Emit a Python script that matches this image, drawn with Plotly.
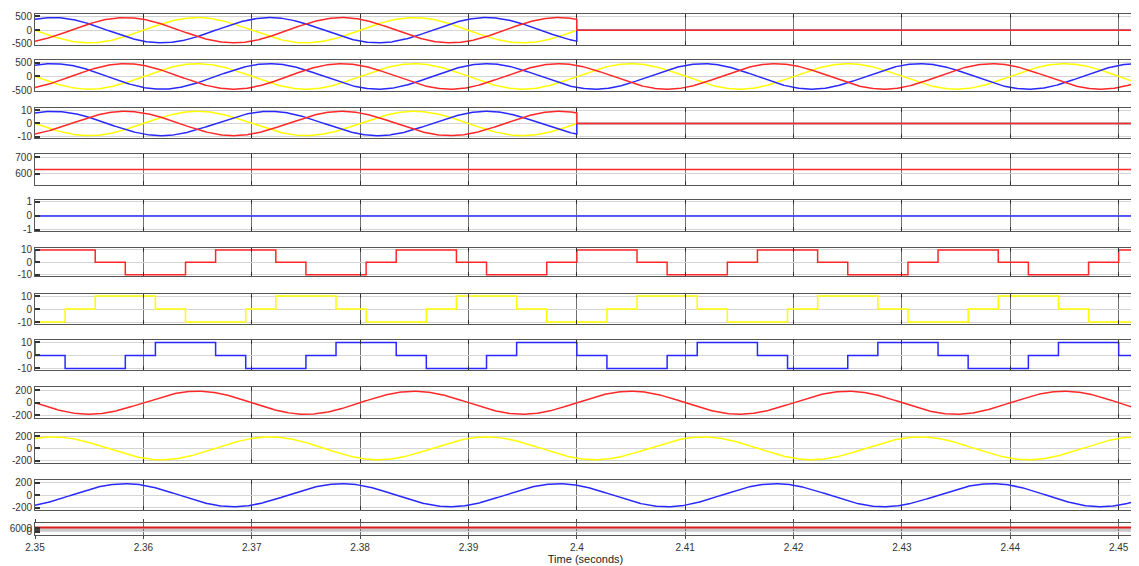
import numpy as np
import plotly.graph_objects as go
from plotly.subplots import make_subplots

# ---------------- data ----------------
t_start, t_end = 2.35, 2.4516
t_cut = 2.40                      # source voltage/current switched off (panels 1 and 3)

# three-phase sinusoid parameters (50 Hz), upward zero-crossing times per phase
sine_freq = 50.0
v_amp = 460.0                     # panels 1-2 amplitude
i_amp = 9.3                       # panel 3 amplitude
load_amp = 187.0                  # panels 9-11 amplitude
v_zero_up = {"red": 2.35333, "yellow": 2.36000, "blue": 2.36667}
load_zero_up = {"red": 2.36000, "yellow": 2.36667, "blue": 2.35333}

dc_level = 626.0                  # panel 4
zero_level = 0.0                  # panel 5
speed_level = 7500.0              # panel 12

# six-step (120 deg) switching signals: sector boundaries every 1/360 s starting at 2.35
sector_len = 1.0 / 360.0
step_prev = {"red": 0, "yellow": -10, "blue": 10}
step_red = [10, 10, 0, -10, -10, 0, 10, 10, 0, -10, -10, 0, 10, 10, 0, -10, -10, 0,
            10, 10, 0, -10, -10, 0, 10, 10, 0, -10, -10, 0, 10, 10, 0, -10, -10, 0, 10]
step_yellow = [-10, 0, 10, 10, 0, -10, -10, 0, 10, 10, 0, -10, -10, 0, 10, 10, 0, -10,
               -10, 0, 10, 10, 0, -10, -10, 0, 10, 10, 0, -10, -10, 0, 10, 10, 0, -10, -10]
step_blue = [0, -10, -10, 0, 10, 10, 0, -10, -10, 0, 10, 10, 0, -10, -10, 0, 10, 10,
             0, -10, -10, 0, 10, 10, 0, -10, -10, 0, 10, 10, 0, -10, -10, 0, 10, 10, 0]

x_ticks = [2.35, 2.36, 2.37, 2.38, 2.39, 2.40, 2.41, 2.42, 2.43, 2.44, 2.45]
x_tick_text = ["2.35", "2.36", "2.37", "2.38", "2.39", "2.4", "2.41", "2.42", "2.43", "2.44", "2.45"]

# ---------------- styling ----------------
RED = "rgb(255,40,40)"
YEL = "rgb(255,255,0)"
BLU = "rgb(40,40,255)"
LW = 1.5

# page body has an 8px margin: the figure starts at (8, 8) in the window
OFF = 8
FIG_W, FIG_H = 1139 - OFF, 566 - OFF

tops = [11, 57.3, 106, 152.3, 198.3, 246, 292.3, 339, 386.3, 432.3, 479.3, 523]
bottoms = [41.7, 88.3, 135.3, 182.7, 229.3, 275, 322.7, 369.3, 417, 462.7, 510, 535]
PT, PB = 11, 535
PL, PR = 32, 1137
H = PB - PT

y_ranges = [[-520, 590], [-520, 590], [-10.8, 11.5], [534, 716], [-1.08, 1.12],
            [-11.4, 11.8], [-11.4, 11.8], [-11.4, 11.8], [-242, 252], [-242, 252], [-242, 252],
            [-6500, 16000]]
y_ticks = [[-500, 0, 500], [-500, 0, 500], [-10, 0, 10], [600, 700], [-1, 0, 1],
           [-10, 0, 10], [-10, 0, 10], [-10, 0, 10], [-200, 0, 200], [-200, 0, 200], [-200, 0, 200],
           [0, 6000]]

fig = make_subplots(rows=12, cols=1, shared_xaxes=True, vertical_spacing=0.01)

t = np.linspace(t_start, t_end, 2001)
w = 2 * np.pi * sine_freq


def sine(amp, t0, tt):
    return amp * np.sin(w * (tt - t0))


def add(row, x, y, color, width=LW):
    fig.add_trace(go.Scatter(x=x, y=y, mode="lines", line=dict(color=color, width=width),
                             hoverinfo="skip", showlegend=False), row=row, col=1)


# panels 1 and 3: cut at t_cut
t_on = np.concatenate([t[t < t_cut], [t_cut]])
for row, amp in [(1, v_amp), (3, i_amp)]:
    for name, col in [("yellow", YEL), ("blue", BLU), ("red", RED)]:
        y_on = sine(amp, v_zero_up[name], t_on)
        x = np.concatenate([t_on, [t_cut, t_end]])
        y = np.concatenate([y_on, [0.0, 0.0]])
        add(row, x, y, col)

# panel 2: continuous
for name, col in [("yellow", YEL), ("blue", BLU), ("red", RED)]:
    add(2, t, sine(v_amp, v_zero_up[name], t), col)

# panels 4, 5
add(4, [t_start, t_end], [dc_level, dc_level], RED)
add(5, [t_start, t_end], [zero_level, zero_level], BLU)


# panels 6-8: stepped signals
def step_xy(prev, levels):
    xs, ys = [t_start], [prev]
    for k, lv in enumerate(levels):
        a = t_start + k * sector_len
        b = min(t_start + (k + 1) * sector_len, t_end)
        xs += [a, b]
        ys += [lv, lv]
    return xs, ys


for row, name, levels, col in [(6, "red", step_red, RED), (7, "yellow", step_yellow, YEL),
                               (8, "blue", step_blue, BLU)]:
    xs, ys = step_xy(step_prev[name], levels)
    add(row, xs, ys, col)

# panels 9-11
for row, name, col in [(9, "red", RED), (10, "yellow", YEL), (11, "blue", BLU)]:
    add(row, t, sine(load_amp, load_zero_up[name], t), col)

# panel 12
add(12, [t_start, t_end], [speed_level, speed_level], "rgb(220,30,30)", 2)

font = dict(family="Liberation Sans, Arial, sans-serif", size=10, color="#333333")

for i in range(12):
    n = "" if i == 0 else str(i + 1)
    dom = [(PB - bottoms[i]) / H, (PB - tops[i]) / H]
    fig.layout["yaxis" + n].update(
        domain=dom, range=y_ranges[i], tickvals=y_ticks[i], ticktext=[str(v) for v in y_ticks[i]],
        showgrid=True, gridcolor="#d4d4d4", gridwidth=1, zeroline=False,
        showline=True, mirror="ticks", linecolor="#555555", linewidth=1,
        ticks="inside", ticklen=5, tickwidth=1.5, tickcolor="#333333",
        tickfont=font, fixedrange=True)
    fig.layout["xaxis" + n].update(
        range=[t_start, t_end], tickvals=x_ticks, ticktext=x_tick_text,
        showgrid=True, gridcolor="#707070", gridwidth=1, zeroline=False,
        showline=True, mirror="ticks", linecolor="#555555", linewidth=1,
        ticks="inside", ticklen=4, tickcolor="#333333",
        showticklabels=(i == 11), tickfont=font)

# crowded grid band of the squashed bottom panel
fig.layout["yaxis12"].update(minor=dict(tickvals=[1000, 2000, 3000, 4000, 5000],
                                        showgrid=True, gridcolor="#c8c8c8", gridwidth=1,
                                        ticks="inside", ticklen=5, tickcolor="#444444"))
fig.layout["xaxis12"].update(ticks="outside", ticklen=3, tickcolor="#444444",
                             title=dict(text="Time (seconds)",
                                        font=dict(family="Liberation Sans, Arial, sans-serif",
                                                  size=11, color="#222222"), standoff=0))

fig.update_layout(width=FIG_W, height=FIG_H,
                  margin=dict(l=PL - OFF, r=1139 - PR, t=PT - OFF, b=566 - PB),
                  paper_bgcolor="white", plot_bgcolor="white", showlegend=False)

fig.write_html("out.html")
